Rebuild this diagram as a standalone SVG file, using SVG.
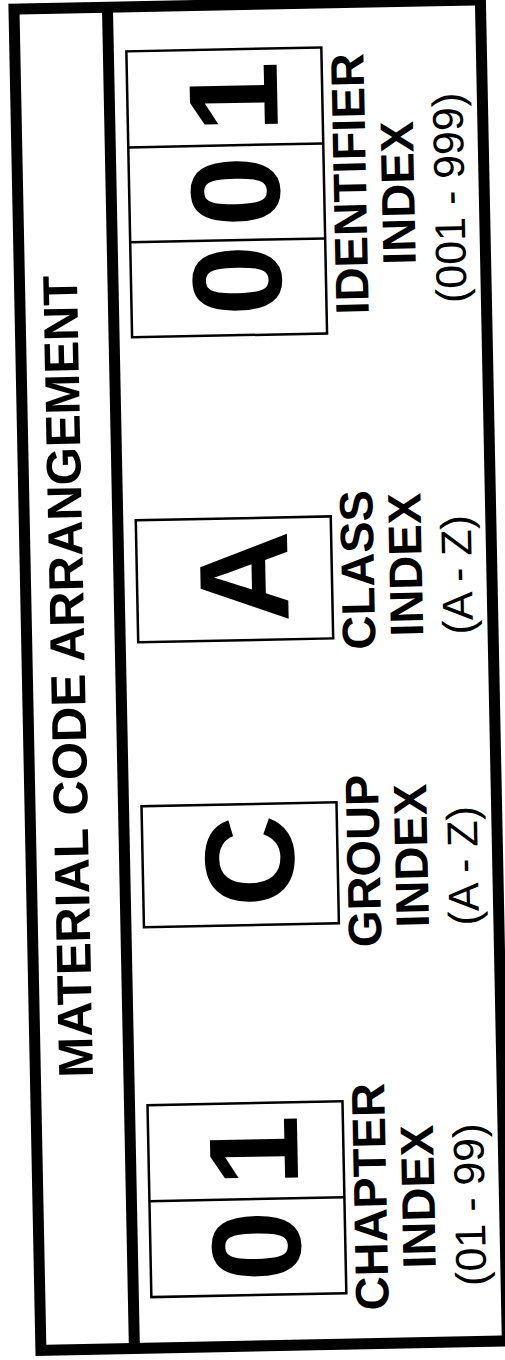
<svg xmlns="http://www.w3.org/2000/svg" width="505" height="1360" viewBox="0 0 505 1360">
<style>
.frame{fill:none;stroke:#000;stroke-width:11}
.box{fill:#fff;stroke:#000;stroke-width:2.5}
.cell{stroke:#000;stroke-width:2.5}
.title{font-family:"Liberation Sans",Arial,sans-serif;font-weight:bold;font-size:49px;fill:#000;text-anchor:middle}
.big{font-family:"Liberation Sans",Arial,sans-serif;font-weight:bold;font-size:127px;fill:#000;text-anchor:middle}
.lbl{font-family:"Liberation Sans",Arial,sans-serif;font-weight:bold;font-size:47px;fill:#000;text-anchor:middle}
.rng{font-family:"Liberation Sans",Arial,sans-serif;font-size:43px;fill:#000;text-anchor:middle}
</style>
<rect width="505" height="1360" fill="#fff"/>
<g transform="rotate(-1.15 252 680)">
  <g id="frame">
    <rect class="frame" x="27.5" y="4.5" width="466.5" height="1341.5"/>
    <line x1="121" y1="0" x2="121" y2="1350" stroke="#000" stroke-width="11"/>
  </g>
  <g id="title">
    <text class="title" transform="translate(85,673) rotate(-90)">MATERIAL CODE ARRANGEMENT</text>
  </g>
  <g id="identifier">
    <rect class="box" x="139" y="49" width="195" height="286"/>
    <line class="cell" x1="139" y1="145" x2="334" y2="145"/>
    <line class="cell" x1="139" y1="240" x2="334" y2="240"/>
    <text class="big" transform="translate(289,97) rotate(-90)">1</text>
    <text class="big" transform="translate(289,191) rotate(-90)">0</text>
    <text class="big" transform="translate(289,280) rotate(-90)">0</text>
    <text class="lbl" transform="translate(376,186) rotate(-90)">IDENTIFIER</text>
    <text class="lbl" transform="translate(424,196) rotate(-90)">INDEX</text>
    <text class="rng" transform="translate(474,202) rotate(-90)">(001 - 999)</text>
  </g>
  <g id="class">
    <rect class="box" x="139" y="518" width="195" height="122"/>
    <text class="big" transform="translate(290,577) rotate(-90)">A</text>
    <text class="lbl" transform="translate(376,572) rotate(-90)">CLASS</text>
    <text class="lbl" transform="translate(424,568) rotate(-90)">INDEX</text>
    <text class="rng" transform="translate(474,579) rotate(-90)">(A - Z)</text>
  </g>
  <g id="group">
    <rect class="box" x="139" y="804" width="195" height="121"/>
    <text class="big" transform="translate(290,861) rotate(-90)">C</text>
    <text class="lbl" transform="translate(376,863) rotate(-90)">GROUP</text>
    <text class="lbl" transform="translate(424,859) rotate(-90)">INDEX</text>
    <text class="rng" transform="translate(474,870) rotate(-90)">(A - Z)</text>
  </g>
  <g id="chapter">
    <rect class="box" x="139" y="1103" width="195" height="192"/>
    <line class="cell" x1="139" y1="1199" x2="334" y2="1199"/>
    <text class="big" transform="translate(288,1151) rotate(-90)">1</text>
    <text class="big" transform="translate(289,1246) rotate(-90)">0</text>
    <text class="lbl" transform="translate(376,1199) rotate(-90)">CHAPTER</text>
    <text class="lbl" transform="translate(424,1200) rotate(-90)">INDEX</text>
    <text class="rng" transform="translate(474,1209) rotate(-90)">(01 - 99)</text>
  </g>
</g>
</svg>
